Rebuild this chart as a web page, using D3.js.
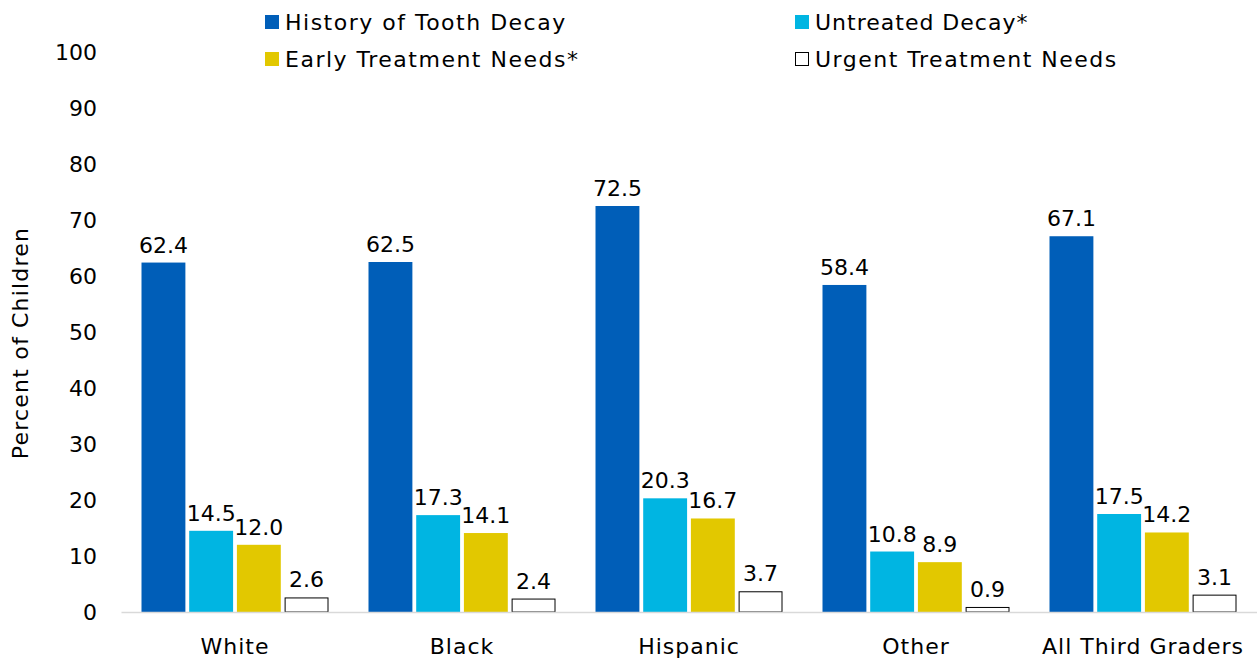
<!DOCTYPE html>
<html>
<head>
<meta charset="utf-8">
<script src="https://cdn.jsdelivr.net/npm/d3@7.9.0/dist/d3.min.js"></script>
<style>
  body { margin: 0; background: #fff; }
  svg { display: block; font-family: "DejaVu Sans", Verdana, sans-serif; }
</style>
</head>
<body>
<svg id="chart" width="1257" height="659"></svg>
<script>
// ---- data ----
const categories = ["White", "Black", "Hispanic", "Other", "All Third Graders"];
const seriesNames = ["History of Tooth Decay", "Untreated Decay*", "Early Treatment Needs*", "Urgent Treatment Needs"];
const historyDecay = [62.4, 62.5, 72.5, 58.4, 67.1];
const untreatedDecay = [14.5, 17.3, 20.3, 10.8, 17.5];
const earlyNeeds = [12.0, 14.1, 16.7, 8.9, 14.2];
const urgentNeeds = [2.6, 2.4, 3.7, 0.9, 3.1];
const yTicks = [0, 10, 20, 30, 40, 50, 60, 70, 80, 90, 100];

const seriesValues = [historyDecay, untreatedDecay, earlyNeeds, urgentNeeds];
const colors = ["#005EB8", "#00B5E2", "#E2C800", "#FFFFFF"];

const svg = d3.select("#chart");

// ---- scales ----
const x0 = d3.scaleBand().domain(categories).range([121.5, 1256.5]);
const x1 = d3.scaleBand().domain(seriesNames).range([20, 207]).paddingInner(0.08);
const y = d3.scaleLinear().domain([0, 100]).range([612, 52]);

// ---- y tick labels (no axis line) ----
svg.append("g")
  .selectAll("text")
  .data(yTicks)
  .join("text")
  .attr("x", 97)
  .attr("y", d => y(d))
  .attr("dy", "0.35em")
  .attr("text-anchor", "end")
  .attr("font-size", 22)
  .attr("fill", "#000")
  .text(d => d);

// y title
svg.append("text")
  .attr("transform", "translate(28,343) rotate(-90)")
  .attr("text-anchor", "middle")
  .attr("font-size", 22)
  .attr("letter-spacing", 1.2)
  .attr("fill", "#000")
  .text("Percent of Children");

// ---- bars ----
const groups = svg.append("g")
  .selectAll("g")
  .data(categories)
  .join("g")
  .attr("transform", d => `translate(${x0(d)},0)`);

groups.each(function (cat, ci) {
  const g = d3.select(this);
  seriesNames.forEach((s, si) => {
    const v = seriesValues[si][ci];
    const isWhite = si === 3;
    g.append("rect")
      .attr("x", x1(s) + (isWhite ? 0.5 : 0))
      .attr("y", y(v) + (isWhite ? 0.5 : 0))
      .attr("width", x1.bandwidth() - (isWhite ? 1 : 0))
      .attr("height", y(0) - y(v) - (isWhite ? 0.5 : 0))
      .attr("fill", colors[si])
      .attr("stroke", isWhite ? "#000" : "none")
      .attr("stroke-width", 1);
    g.append("text")
      .attr("x", x1(s) + x1.bandwidth() / 2)
      .attr("y", y(v) - 10)
      .attr("text-anchor", "middle")
      .attr("font-size", 22)
      .attr("fill", "#000")
      .text(v.toFixed(1));
  });
});

// ---- baseline ----
svg.append("line")
  .attr("x1", 121.5).attr("x2", 1257)
  .attr("y1", y(0) + 0.5).attr("y2", y(0) + 0.5)
  .attr("stroke", "#d9d9d9")
  .attr("stroke-width", 1.5);

// ---- category labels ----
svg.append("g")
  .selectAll("text")
  .data(categories)
  .join("text")
  .attr("x", d => x0(d) + x0.bandwidth() / 2)
  .attr("y", 654)
  .attr("text-anchor", "middle")
  .attr("font-size", 22)
  .attr("letter-spacing", 1)
  .attr("fill", "#000")
  .text(d => d);

// ---- legend ----
const legendPos = [
  { x: 265, y: 22 },
  { x: 795, y: 22 },
  { x: 265, y: 59 },
  { x: 795, y: 59 }
];
const legend = svg.append("g")
  .selectAll("g")
  .data(seriesNames)
  .join("g")
  .attr("transform", (d, i) => `translate(${legendPos[i].x},${legendPos[i].y})`);

legend.append("rect")
  .attr("x", (d, i) => i === 3 ? 0.5 : 0)
  .attr("y", (d, i) => i === 3 ? -6.5 : -7)
  .attr("width", (d, i) => i === 3 ? 13 : 14)
  .attr("height", (d, i) => i === 3 ? 13 : 14)
  .attr("fill", (d, i) => colors[i])
  .attr("stroke", (d, i) => i === 3 ? "#000" : "none");

legend.append("text")
  .attr("x", 20)
  .attr("dy", "0.35em")
  .attr("font-size", 22)
  .attr("letter-spacing", (d, i) => i === 1 ? 1 : 1.5)
  .attr("fill", "#000")
  .text(d => d);
</script>
</body>
</html>
